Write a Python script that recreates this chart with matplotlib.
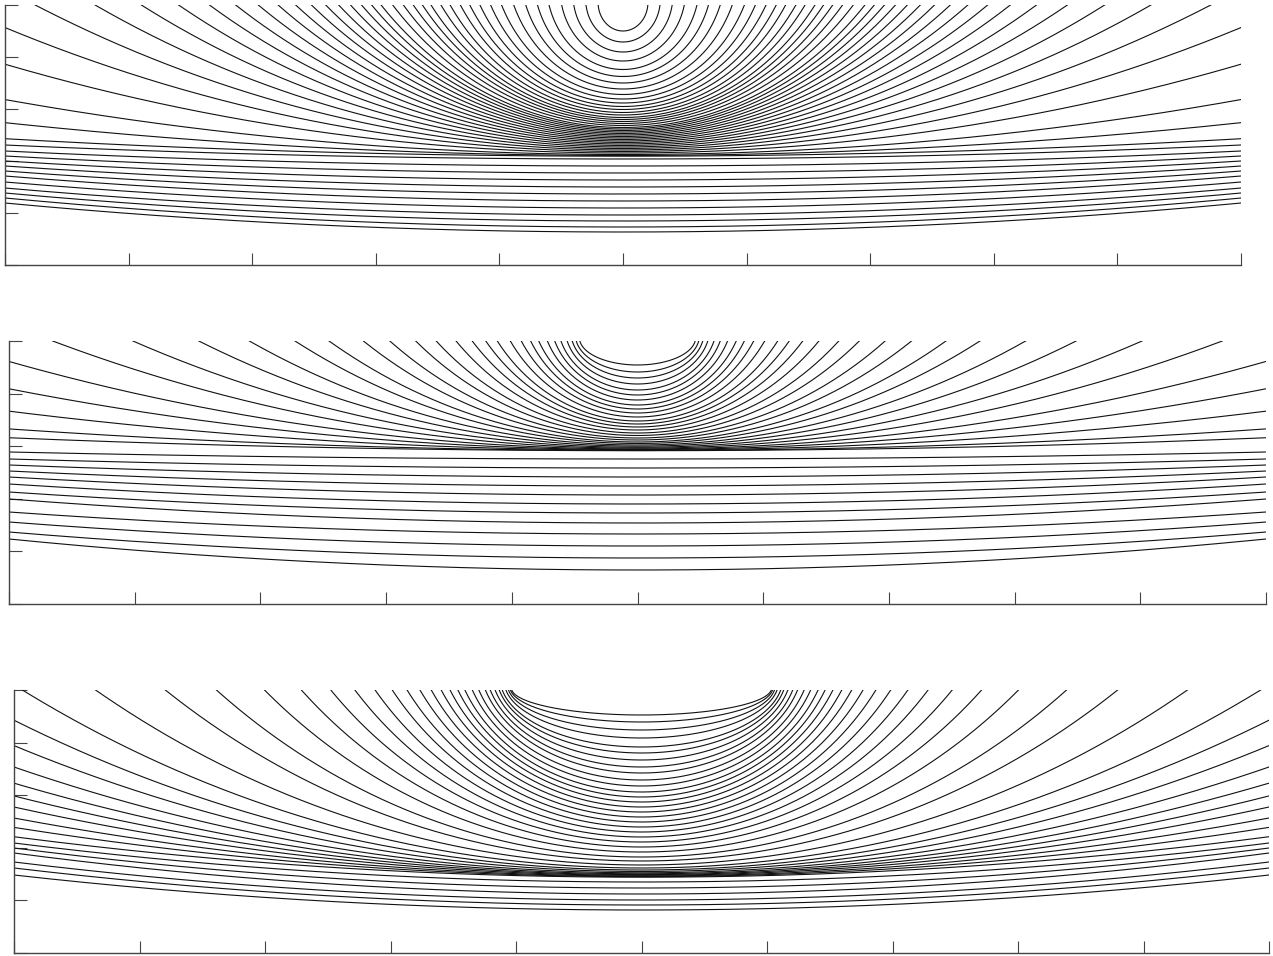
import numpy as np
import matplotlib

matplotlib.use("Agg")
import matplotlib.pyplot as plt

# Units are canvas pixels: x is the offset from the panel centre, depth is
# measured down from the top edge of each panel.  The drawn section is a
# little squeezed sideways compared with depth.
X_SQUEEZE = 0.87

# half width of the source strip on the top edge (0 = point source)
SOURCE_HALF = [0, 53, 128]
# depth under the source that the upper curves crowd towards (the dark band)
BAND_DEPTH = [152, 110, 190]

# upper family: depth of each curve below the source centre
UPPER_1 = [26, 37, 47, 56, 64.5, 71.5, 78, 84, 89.5, 94, 98, 101.5, 104.5, 107.5,
           110, 112.5, 114.5, 116.5, 118.5, 120.5, 122.5, 124, 125.5, 127, 128.5,
           130, 131.5, 133, 134.5, 136, 137.5, 139, 140.5, 142, 143.5, 145,
           146.5, 148, 149.5, 150.5, 151.2]
UPPER_2 = [24, 31, 37, 43, 49, 54, 59, 64, 68, 72, 76, 80, 83, 86, 89, 92, 94.5,
           97, 99, 101, 102.5, 104, 105.2, 106.3, 107.2, 108, 108.6, 109.1,
           109.5, 109.7]
UPPER_3 = [25, 32, 40, 48, 57, 63, 70, 77, 83, 90, 96, 102, 107, 112, 117, 122,
           127, 132, 137, 142, 147, 152, 157, 162, 167, 171, 175, 178, 180,
           181.5, 182.8, 183.8, 184.6, 185.3, 186, 186.6, 187.2]

# lower family: depth at the centre and depth where it meets the side edges
LOWER_MID_1 = [154, 161, 168, 175, 182, 189, 196, 203, 210, 216, 222, 227]
LOWER_EDGE_1 = [140, 146, 151, 156, 161, 166, 171, 177, 183, 188, 193, 198]
LOWER_MID_2 = [118, 127, 136, 145, 154, 163, 172, 182, 193, 205, 217, 229]
LOWER_EDGE_2 = [111, 118, 124, 130, 136, 143, 151, 158, 171, 181, 191, 198]
LOWER_MID_3 = [192, 198, 204, 210, 215, 220]
LOWER_EDGE_3 = [153, 158, 163, 172, 178, 185]

UPPER = [UPPER_1, UPPER_2, UPPER_3]
LOWER_MID = [LOWER_MID_1, LOWER_MID_2, LOWER_MID_3]
LOWER_EDGE = [LOWER_EDGE_1, LOWER_EDGE_2, LOWER_EDGE_3]

# panel frames on the canvas: left, top, width, height (pixels)
FRAMES = [(5, 5, 1236, 260), (9, 341, 1257, 263), (14, 690, 1255, 263)]
FIG_W, FIG_H = 1273, 956

INK = "#111111"
AXIS = "#444444"


def upper_curve(d, f_px, band):
    """Ellipse with foci at the strip ends near the source; its centre rises
    above the surface as d nears the band, so far curves flatten out."""
    f = f_px / X_SQUEEZE
    c = d * d / (2.0 * (band - d))
    b = d + c
    a = np.sqrt(b * b + f * f)
    t0 = np.arcsin(min(c / b, 1.0))
    t = np.linspace(t0, np.pi - t0, 6000)
    return X_SQUEEZE * a * np.cos(t), b * np.sin(t) - c


def lower_curve(d, e, half_px):
    """Shallow bowl through the centre depth d and the edge depth e."""
    xe = half_px / X_SQUEEZE
    zc = (d * d - xe * xe - e * e) / (2.0 * (d - e))
    r = d - zc
    x = np.linspace(-xe, xe, 1200)
    return X_SQUEEZE * x, zc + np.sqrt(r * r - x * x)


fig = plt.figure(figsize=(FIG_W / 100, FIG_H / 100), dpi=100)

for i, (left, top, width, height) in enumerate(FRAMES):
    ax = fig.add_axes([left / FIG_W, 1 - (top + height) / FIG_H,
                       width / FIG_W, height / FIG_H])
    half = width / 2.0

    for d in UPPER[i]:
        x, z = upper_curve(d, SOURCE_HALF[i], BAND_DEPTH[i])
        ax.plot(x, z, color=INK, linewidth=0.8)
    for d, e in zip(LOWER_MID[i], LOWER_EDGE[i]):
        x, z = lower_curve(d, e, half)
        ax.plot(x, z, color=INK, linewidth=0.8)

    ax.set_xlim(-half, half)
    ax.set_ylim(height, 0)
    ax.set_xticks(np.linspace(-half, half, 11))
    ax.set_yticks(np.linspace(0, height, 6))
    ax.tick_params(direction="in", length=9, width=0.8, color=AXIS,
                   labelbottom=False, labelleft=False)
    for spine in ("top", "right"):
        ax.spines[spine].set_visible(False)
    for spine in ("left", "bottom"):
        ax.spines[spine].set_color(AXIS)
        ax.spines[spine].set_linewidth(1.0)

fig.savefig("out.png", dpi=100)
